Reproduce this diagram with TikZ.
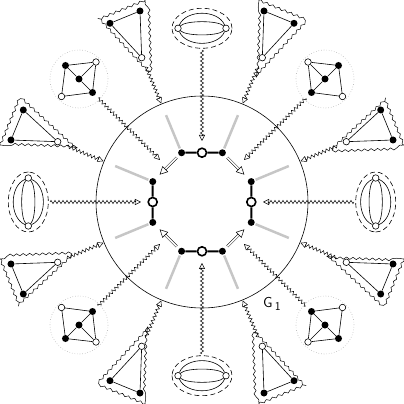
\documentclass[tikz,border=0pt]{standalone}
\usetikzlibrary{arrows.meta,decorations.pathmorphing,calc}
\begin{document}
\begin{tikzpicture}[x=1pt,y=1pt,line width=0.6pt,
    blk/.style={circle,fill,inner sep=0pt,minimum size=7pt},
    wht/.style={circle,draw,fill=white,inner sep=0pt,minimum size=6.5pt},
    port/.style={circle,draw,fill=white,line width=1.6pt,inner sep=0pt,minimum size=9pt},
    wave/.style={line width=0.5pt,decorate,decoration={zigzag,amplitude=1.6pt,segment length=4pt,post length=5pt},-{Triangle[open,length=6pt,width=6pt]}},
    fuzzy/.style={line width=0.5pt,decorate,decoration={snake,amplitude=1.1pt,segment length=6.5pt}},
    spoke/.style={line width=2.5pt,gray!45},
    bond/.style={line width=2pt},
    push/.style={double,double distance=1.6pt,line width=0.5pt,-{Triangle[open,length=8pt,width=8pt]},shorten <=3pt,shorten >=6pt}]
    \useasboundingbox (-202,-202) rectangle (202,202);
    \node[circle,draw,minimum size=212pt,inner sep=0pt] (hub) at (0,0) {};
    \node (lbl) at (70,-102) {\sffamily\Large G\,\raisebox{-0.5ex}{\large 1}};
    \foreach \i in {0,...,7}
        \draw[spoke] (22.5+45*\i:58) -- (22.5+45*\i:94);
    \foreach \i in {0,...,7}
        \node[blk] (v\i) at (22.5+45*\i:53.3) {};
    \foreach \i in {0,...,3}
        \node[port] (p\i) at (90*\i:49.3) {};
    \draw[bond] (v7) -- (p0) -- (v0) (v1) -- (p1) -- (v2) (v3) -- (p2) -- (v4) (v5) -- (p3) -- (v6);
    \foreach \a/\b in {1/0,2/3,5/4,6/7}
        \draw[push] (v\a) -- (v\b);
    \foreach \k in {0,...,3} {
        \begin{scope}[rotate=90*\k]
            \draw[dash pattern=on 5pt off 3pt] (0,173.7) ellipse[x radius=30,y radius=20];
            \node[wht] (e\k-a) at (-24,173.7) {};
            \node[wht] (e\k-b) at (24,173.7) {};
            \draw (e\k-a) .. controls +(8,19) and +(-8,19) .. (e\k-b);
            \draw (e\k-a) .. controls +(8,8) and +(-8,8) .. (e\k-b);
            \draw (e\k-a) .. controls +(8,-8) and +(-8,-8) .. (e\k-b);
            \draw (e\k-a) .. controls +(8,-19) and +(-8,-19) .. (e\k-b);
            \coordinate (e\k-s) at (0,152);
            \coordinate (e\k-t) at (0,61);
            \draw[wave] (e\k-s) -- (e\k-t);
        \end{scope}
    }
    \foreach \sx/\sy/\n in {1/1/a,-1/1/b,1/-1/c,-1/-1/d} {
        \begin{scope}[xscale=\sx,yscale=\sy]
            \draw[dotted,gray!60] (-123,123) circle[radius=29];
            \node[blk] (q\n-o) at (-136.5,136.5) {};
            \node[blk] (q\n-i) at (-109.5,109.5) {};
            \node[blk] (q\n-c) at (-123,123) {};
            \node[wht] (q\n-u) at (-106,140) {};
            \node[wht] (q\n-l) at (-140.5,105.5) {};
            \draw (q\n-o) -- (q\n-u) -- (q\n-i) -- (q\n-l) -- (q\n-o);
            \draw (q\n-o) -- (q\n-c) -- (q\n-i) (q\n-c) -- (q\n-u);
            \coordinate (q\n-s) at (135:147);
            \coordinate (q\n-t) at (135:59.4);
            \draw[wave] (q\n-s) -- (q\n-t);
        \end{scope}
    }
    \foreach \k in {0,...,3}
    \foreach \s/\n in {1/a,-1/b} {
        \begin{scope}[rotate=90*\k,xscale=\s]
            \node[blk] (t\k\n-a) at (-62,191) {};
            \node[blk] (t\k\n-b) at (-92,178.7) {};
            \node[wht] (t\k\n-c) at (-60.3,144.3) {};
            \coordinate (t\k\n-m) at (-71.4,171.3);
            \draw (t\k\n-a) -- (t\k\n-b) -- (t\k\n-c) -- (t\k\n-a);
            \draw[fuzzy] ($(t\k\n-m)!1.55!(t\k\n-a)$) -- ($(t\k\n-m)!1.55!(t\k\n-b)$) -- ($(t\k\n-m)!1.55!(t\k\n-c)$) -- cycle;
            \coordinate (t\k\n-s) at (112.5:146);
            \coordinate (t\k\n-t) at (112.5:106.6);
            \draw[wave] (t\k\n-s) -- (t\k\n-t);
        \end{scope}
    }
\end{tikzpicture}
\end{document}
